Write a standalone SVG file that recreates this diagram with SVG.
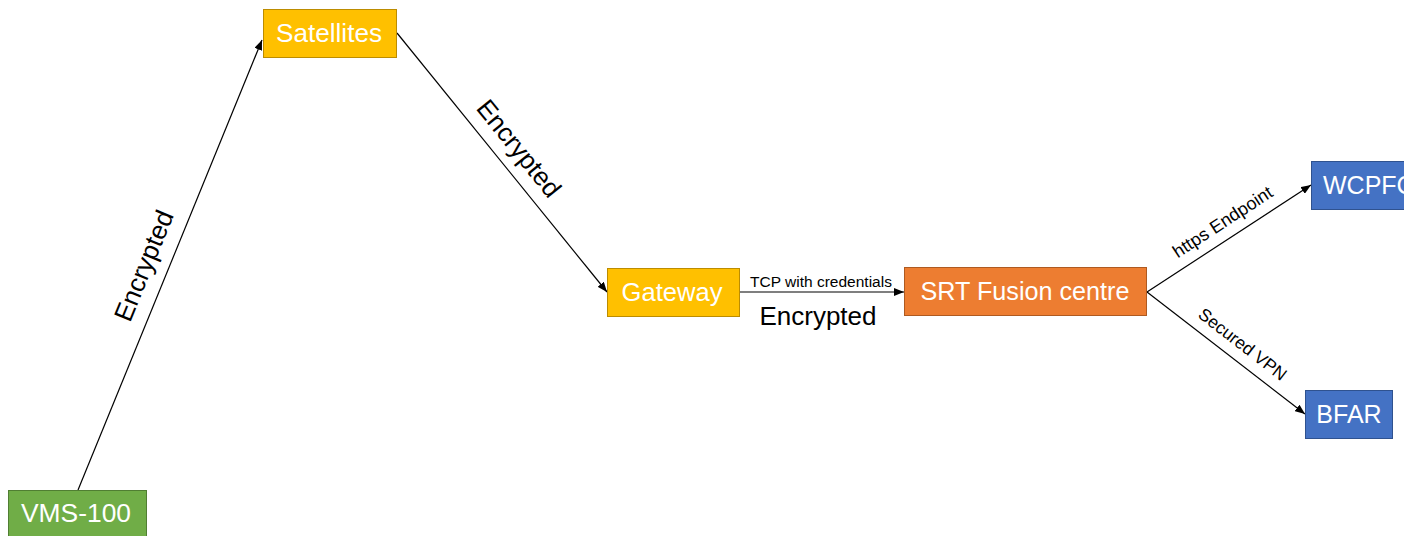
<svg xmlns="http://www.w3.org/2000/svg" width="1404" height="536" viewBox="0 0 1404 536">
<style>
.nt{font-family:"Liberation Sans",Arial,sans-serif;font-size:25px;fill:#ffffff;text-anchor:middle}
.lb{font-family:"Liberation Sans",Arial,sans-serif;fill:#000000;text-anchor:middle}
.edge{stroke:#000000;stroke-width:1.2;fill:none;marker-end:url(#ah)}
.g{fill:#70AD47;stroke:#507E32;stroke-width:1}
.y{fill:#FFC000;stroke:#BC8C00;stroke-width:1}
.o{fill:#ED7D31;stroke:#AE5A21;stroke-width:1}
.b{fill:#4472C4;stroke:#2F528F;stroke-width:1}
</style>
<defs>
<marker id="ah" markerWidth="10" markerHeight="8" refX="10" refY="4" orient="auto" markerUnits="userSpaceOnUse">
<path d="M0,0 L10,4 L0,8 Z" fill="#000000"/>
</marker>
</defs>
<rect width="1404" height="536" fill="#ffffff"/>
<g id="connectors">
<line class="edge" x1="78" y1="490" x2="262" y2="40"/>
<line class="edge" x1="397" y1="33" x2="607" y2="292"/>
<line class="edge" x1="739" y1="292" x2="904" y2="292"/>
<line class="edge" x1="1147" y1="292" x2="1311" y2="185"/>
<line class="edge" x1="1147" y1="292" x2="1305" y2="414"/>
<text class="lb" font-size="26" transform="translate(152,269) rotate(-67.8)">Encrypted</text>
<text class="lb" font-size="26" transform="translate(512,154) rotate(51)">Encrypted</text>
<text class="lb" font-size="15.5" x="821" y="287">TCP with credentials</text>
<text class="lb" font-size="26" x="818" y="325">Encrypted</text>
<text class="lb" font-size="18" transform="translate(1226,227) rotate(-33.1)">https Endpoint</text>
<text class="lb" font-size="17.5" transform="translate(1239,349) rotate(37.7)">Secured VPN</text>
</g>
<g id="vms100">
<rect class="g" x="8.5" y="490.5" width="138" height="50"/>
<text class="nt" x="76" y="522" textLength="110" lengthAdjust="spacingAndGlyphs">VMS-100</text>
</g>
<g id="satellites">
<rect class="y" x="263.5" y="9.5" width="133" height="48"/>
<text class="nt" x="329" y="42" textLength="106" lengthAdjust="spacingAndGlyphs">Satellites</text>
</g>
<g id="gateway">
<rect class="y" x="607.5" y="268.5" width="132" height="48"/>
<text class="nt" x="672" y="301" textLength="101" lengthAdjust="spacingAndGlyphs">Gateway</text>
</g>
<g id="srt">
<rect class="o" x="904.5" y="267.5" width="242" height="48"/>
<text class="nt" x="1025" y="300" textLength="209" lengthAdjust="spacingAndGlyphs">SRT Fusion centre</text>
</g>
<g id="wcpfc">
<rect class="b" x="1311.5" y="161.5" width="110" height="48"/>
<text class="nt" x="1323" y="194" style="text-anchor:start">WCPFC</text>
</g>
<g id="bfar">
<rect class="b" x="1305.5" y="390.5" width="87" height="48"/>
<text class="nt" x="1349" y="423">BFAR</text>
</g>
</svg>
